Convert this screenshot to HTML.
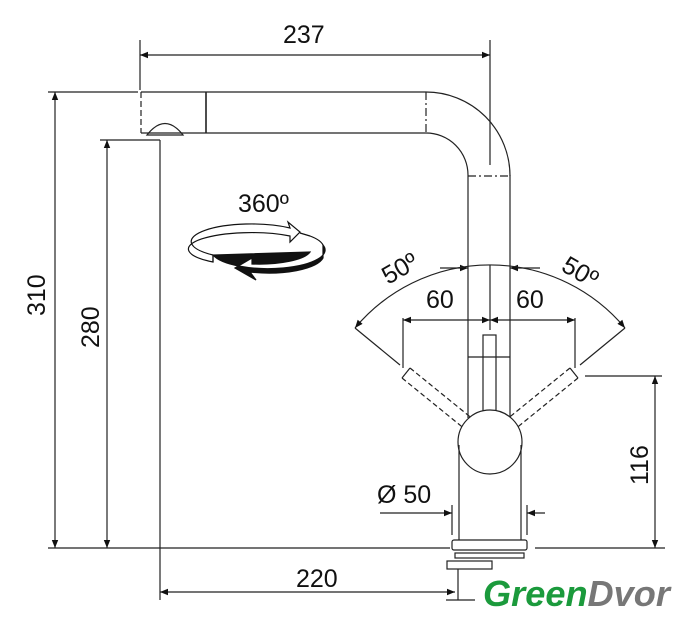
<!DOCTYPE html>
<html><head><style>
html,body{margin:0;padding:0;background:#fff;width:684px;height:640px;overflow:hidden}
text{font-family:"Liberation Sans",sans-serif;fill:#111}
</style></head><body>
<svg width="684" height="640" viewBox="0 0 684 640" xmlns="http://www.w3.org/2000/svg">
<defs>
<marker id="a" viewBox="0 0 10 10" refX="10" refY="5" markerWidth="12" markerHeight="8" orient="auto-start-reverse" markerUnits="userSpaceOnUse"><path d="M0,1 L10,5 L0,9 z" fill="#111"/></marker>
</defs>
<g stroke="#222" stroke-width="1.2" fill="none">
<line x1="140" y1="40" x2="140" y2="90"/>
<line x1="490" y1="40" x2="490" y2="165"/>
<line x1="140" y1="55" x2="490" y2="55" marker-start="url(#a)" marker-end="url(#a)"/>
<line x1="141" y1="92" x2="426" y2="92"/>
<line x1="141" y1="133" x2="426" y2="133"/>
<line x1="141" y1="92" x2="141" y2="133" stroke-dasharray="6 3"/>
<line x1="206" y1="92" x2="206" y2="133" stroke-width="1.6"/>
<line x1="426" y1="92" x2="426" y2="133" stroke-dasharray="8 3 2 3"/>
<path d="M426 92 A84 84 0 0 1 510 176"/>
<path d="M426 133 A42 42 0 0 1 468 175"/>
<path d="M147 135 Q165 112 183 135 Z"/>
<line x1="468" y1="176" x2="510" y2="176" stroke-dasharray="8 3 2 3"/>
<line x1="468" y1="175" x2="468" y2="418"/>
<line x1="510" y1="175" x2="510" y2="418"/>
<line x1="48" y1="92" x2="138" y2="92"/>
<line x1="55" y1="92" x2="55" y2="548" marker-start="url(#a)" marker-end="url(#a)"/>
<line x1="100" y1="140" x2="160" y2="140"/>
<line x1="107" y1="140" x2="107" y2="548" marker-start="url(#a)" marker-end="url(#a)"/>
<line x1="48" y1="548" x2="450" y2="548"/>
<line x1="535" y1="548" x2="665" y2="548"/>
<line x1="160" y1="140" x2="160" y2="600"/>
<line x1="160" y1="592" x2="455" y2="592" marker-start="url(#a)" marker-end="url(#a)"/>
<line x1="585" y1="376" x2="662" y2="376"/>
<line x1="655" y1="376" x2="655" y2="548" marker-start="url(#a)" marker-end="url(#a)"/>
<line x1="403" y1="318" x2="403" y2="368"/>
<line x1="575" y1="318" x2="575" y2="368"/>
<line x1="490" y1="265" x2="490" y2="330"/>
<line x1="403" y1="320" x2="490" y2="320" marker-start="url(#a)" marker-end="url(#a)"/>
<line x1="490" y1="320" x2="575" y2="320" marker-start="url(#a)" marker-end="url(#a)"/>
<line x1="440" y1="268" x2="468" y2="268" marker-end="url(#a)"/>
<line x1="540" y1="268" x2="510" y2="268" marker-end="url(#a)"/>
<path d="M355 328 A176 176 0 0 1 625 328" marker-start="url(#a)" marker-end="url(#a)"/>
<line x1="355" y1="328" x2="400" y2="365"/>
<line x1="625" y1="328" x2="580" y2="365"/>
<rect x="483" y="335" width="13" height="80"/>
<line x1="468" y1="357" x2="510" y2="357"/>
<line x1="402" y1="378" x2="410" y2="368"/>
<line x1="578" y1="378" x2="570" y2="368"/>
<g stroke-dasharray="5 3">
<path d="M402 378 L466 430 M410 368 L474 420"/>
<path d="M578 378 L514 430 M570 368 L506 420"/>
</g>
<circle cx="490" cy="442" r="32" fill="#fff"/>
<line x1="459" y1="445" x2="459" y2="540"/>
<line x1="521" y1="445" x2="521" y2="540"/>
<line x1="452" y1="505" x2="452" y2="535"/>
<line x1="527" y1="505" x2="527" y2="535"/>
<line x1="380" y1="513" x2="452" y2="513" marker-end="url(#a)"/>
<line x1="545" y1="513" x2="527" y2="513" marker-end="url(#a)"/>
<rect x="452" y="540" width="75" height="10" rx="2"/>
<rect x="455" y="553" width="69" height="5"/>
<rect x="447" y="561" width="45" height="8"/>
<line x1="458" y1="569" x2="458" y2="600"/>
<line x1="446" y1="600" x2="475" y2="600"/>
</g>
<g stroke="#111" stroke-width="1.2">
<path d="M213 255 A55 18 0 0 0 323 245 L323 258 A55 18 0 0 1 250 272 L256 280 L235 268 L252 258 L252 264 A52 15 0 0 0 310 252 Z" fill="#111"/>
<path d="M213 255 A55 16 0 0 1 290 228 L288 222 L300 232 L290 242 L290 236 A50 13 0 0 0 213 262 Z" fill="#fff"/>
<path d="M300 233 L310 236 A55 18 0 0 1 323 245" fill="none"/>
<path d="M213 255 L213 262" fill="none"/>
</g>
<text x="238" y="212" font-size="25">360º</text>
<text x="283" y="43" font-size="25">237</text>
<text x="0" y="0" font-size="25" transform="translate(45,316) rotate(-90)">310</text>
<text x="0" y="0" font-size="25" transform="translate(99,348) rotate(-90)">280</text>
<text x="296" y="587" font-size="25">220</text>
<text x="0" y="0" font-size="25" transform="translate(648,485) rotate(-90)">116</text>
<text x="426" y="308" font-size="25">60</text>
<text x="516" y="308" font-size="25">60</text>
<text x="0" y="0" font-size="25" transform="translate(388,285) rotate(-30)">50º</text>
<text x="0" y="0" font-size="25" transform="translate(560,270) rotate(30)">50º</text>
<text x="377" y="503" font-size="25">Ø 50</text>
<rect x="478" y="572" width="206" height="42" fill="#fff"/>
<text x="483" y="606" font-size="36" font-style="italic" font-weight="bold" textLength="187" lengthAdjust="spacingAndGlyphs"><tspan style="fill:#1b9a3c">Green</tspan><tspan style="fill:#777">Dvor</tspan></text>
</svg>
</body></html>
